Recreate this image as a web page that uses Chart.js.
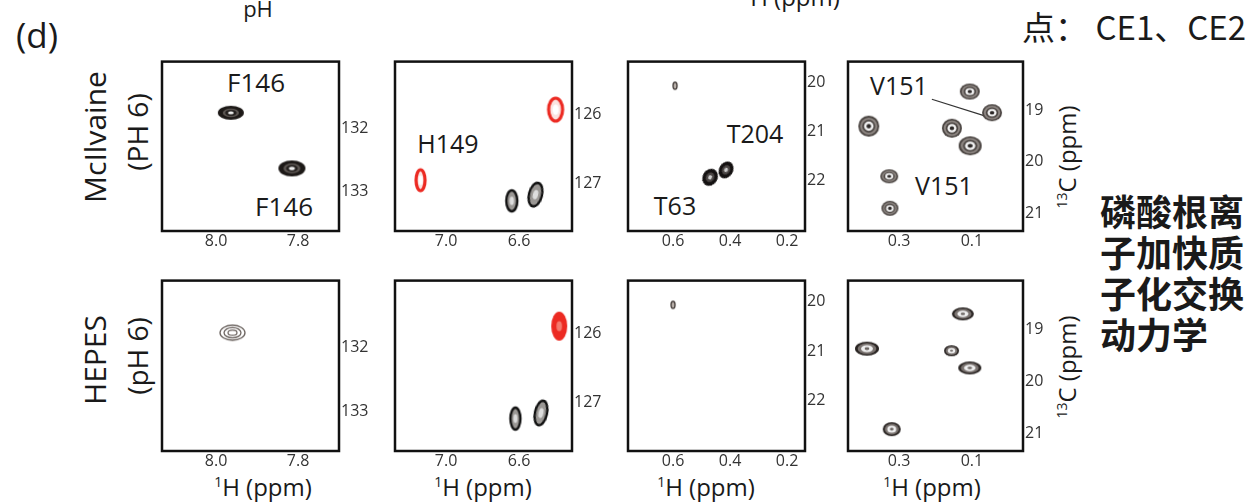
<!DOCTYPE html>
<html>
<head>
<meta charset="utf-8">
<script src="https://cdn.jsdelivr.net/npm/chart.js@4.4.1/dist/chart.umd.min.js"></script>
<style>
  body { margin: 0; width: 1255px; height: 502px; overflow: hidden; background: #fff; position: relative;
         font-family: "Open Sans", "Noto Sans", sans-serif; color: #1a1a1a; }
  canvas { position: absolute; }
  .t { position: absolute; line-height: 1; white-space: nowrap; transform: translate(-50%, -50%); }
  .r { transform: translate(-50%, -50%) rotate(-90deg); }
  .cjk { position: absolute; font-family: "Noto Sans CJK SC", sans-serif; white-space: nowrap; }
</style>
</head>
<body>

<div class="t" style="left:37px;top:34px;font-size:35px">(d)</div>
<div class="t" style="left:258px;top:8px;font-size:22px">pH</div>
<div class="t" style="left:791px;top:-3px;font-size:24px"><sup style="font-size:14px">1</sup>H (ppm)</div>
<div class="cjk" style="left:1022px;top:2px;font-size:33px">点： CE1、CE2</div>
<div class="cjk" style="left:1100px;top:190px;font-size:36px;font-weight:bold;line-height:41px">磷酸根离<br>子加快质<br>子化交换<br>动力学</div>

<div class="t r" style="left:95px;top:137px;font-size:30px">McIlvaine</div>
<div class="t r" style="left:137px;top:132px;font-size:28px">(PH 6)</div>
<div class="t r" style="left:95px;top:360px;font-size:30px">HEPES</div>
<div class="t r" style="left:137px;top:356px;font-size:28px">(pH 6)</div>

<div class="t" style="left:256px;top:82px;font-size:26px">F146</div>
<div class="t" style="left:284px;top:206px;font-size:26px">F146</div>
<div class="t" style="left:448px;top:143px;font-size:25px">H149</div>
<div class="t" style="left:755px;top:133px;font-size:25px">T204</div>
<div class="t" style="left:675px;top:205px;font-size:25px">T63</div>
<div class="t" style="left:899px;top:85px;font-size:25px">V151</div>
<div class="t" style="left:944px;top:185px;font-size:25px">V151</div>

<div class="t" style="left:263px;top:487px;font-size:24px"><sup style="font-size:14px">1</sup>H (ppm)</div>
<div class="t" style="left:483px;top:487px;font-size:24px"><sup style="font-size:14px">1</sup>H (ppm)</div>
<div class="t" style="left:706px;top:487px;font-size:24px"><sup style="font-size:14px">1</sup>H (ppm)</div>
<div class="t" style="left:932px;top:487px;font-size:24px"><sup style="font-size:14px">1</sup>H (ppm)</div>
<div class="t r" style="left:1067px;top:157px;font-size:24px"><sup style="font-size:14px">13</sup>C (ppm)</div>
<div class="t r" style="left:1067px;top:367px;font-size:24px"><sup style="font-size:14px">13</sup>C (ppm)</div>

<script>
// tick labels (ppm)
const ticksA_H = [8.0, 7.8], ticksA_C = [132, 133];
const ticksB_H = [7.0, 6.6], ticksB_C = [126, 127];
const ticksC_H = [0.6, 0.4, 0.2], ticksC_C = [20, 21, 22];
const ticksD_H = [0.3, 0.1], ticksD_C = [19, 20, 21];

// F146 aromatic peaks
const mcA_H = [7.964, 7.815], mcA_C = [131.76, 132.64];
const hepA_H = [7.96], hepA_C = [131.77];
// H149 peaks (red = histidine)
const mcB_H = [6.40, 7.14, 6.64, 6.51], mcB_C = [125.93, 126.96, 127.26, 127.17];
const hepB_H = [6.38, 6.62, 6.48], hepB_C = [125.89, 127.23, 127.15];
// Thr methyl peaks
const mcC_H = [0.593, 0.47, 0.414], mcC_C = [20.07, 21.93, 21.78];
const hepC_H = [0.60], hepC_C = [20.07];
// Val methyl peaks
const mcD_H = [0.106, 0.045, 0.383, 0.155, 0.105, 0.327, 0.325];
const mcD_C = [18.64, 19.05, 19.31, 19.35, 19.69, 20.28, 20.90];
const hepD_H = [0.125, 0.388, 0.156, 0.106, 0.32];
const hepD_C = [18.70, 19.37, 19.41, 19.74, 20.92];
// V151 leader line
const leaderD_H = [0.21, 0.065], leaderD_C = [18.79, 19.11];

// contour looks: [scale, fill, stroke, lineWidth]
const looks = {
    dark:  [[1, '#1d1917'], [0.62, '#5f5955'], [0.44, '#231f1d'], [0.22, '#eeeeee']],
    rings: [[1, null, '#6a625e', 1.3], [0.68, null, '#6a625e', 1.3], [0.36, null, '#6a625e', 1.2]],
    blk:   [[1, '#9a9794', '#111', 2.4], [0.4, '#dddddd']],
    red:   [[1, '#fbe3e0', '#ec2a22', 3.2], [0.45, '#ffffff']],
    redF:  [[1, '#ec2a22'], [0.35, '#f47a6e']],
    dot:   [[1, '#b9b0aa', '#4b4441', 1.4]],
    thr:   [[1, '#141111'], [0.55, '#4a4544'], [0.25, '#cfcfcf']],
    val:   [[1, '#4a4441'], [0.82, '#8e8783'], [0.62, '#4a4441'], [0.45, '#f4f4f4'], [0.22, '#2b2726']],
    valD:  [[1, '#2a2523'], [0.78, '#7a7370'], [0.5, '#f0f0f0'], [0.2, '#6a6461']]
};

function peakImage(look, w, h) {
    const c = document.createElement('canvas');
    c.width = Math.ceil(w) + 6;
    c.height = Math.ceil(h) + 6;
    const g = c.getContext('2d');
    looks[look].forEach(([s, fill, stroke, lw]) => {
        g.beginPath();
        g.ellipse(c.width / 2, c.height / 2, w / 2 * s, h / 2 * s, 0, 0, Math.PI * 2);
        if (fill) { g.fillStyle = fill; g.fill(); }
        if (stroke) { g.strokeStyle = stroke; g.lineWidth = lw; g.stroke(); }
    });
    return c;
}

// panel boxes on the page
const PAD = 6, YW = 44, XH = 26;
const rows = [{ t: 56, b: 231 }, { t: 275, b: 451 }];
const cols = [{ l: 162, r: 339 }, { l: 395, r: 572 }, { l: 628, r: 805 }, { l: 848, r: 1023 }];

const frame = {
    id: 'frame',
    afterDatasetsDraw(chart) {
        const a = chart.chartArea, g = chart.ctx;
        g.save();
        g.lineWidth = 2.5;
        g.strokeStyle = '#111';
        g.strokeRect(a.left, a.top, a.right - a.left, a.bottom - a.top);
        g.restore();
    }
};

function panel(ci, ri, xr, yr, xt, yt, xDigits, hs, cs, shapes, extra) {
    const c = cols[ci], r = rows[ri];
    const cv = document.createElement('canvas');
    cv.width = c.r - c.l + PAD + YW;
    cv.height = r.b - r.t + PAD + XH;
    cv.style.left = (c.l - PAD) + 'px';
    cv.style.top = (r.t - PAD) + 'px';
    document.body.appendChild(cv);

    const datasets = [{
        data: hs.map((h, i) => ({ x: h, y: cs[i] })),
        pointStyle: shapes.map(s => peakImage(s[0], s[1], s[2])),
        rotation: shapes.map(s => s[3] || 0),
        pointRadius: 3,
        clip: false
    }];
    if (extra) datasets.push(extra);

    new Chart(cv, {
        type: 'scatter',
        data: { datasets: datasets },
        options: {
            responsive: false,
            animation: false,
            events: [],
            layout: { padding: { left: PAD, top: PAD, right: 0, bottom: 0 } },
            plugins: { legend: { display: false }, tooltip: { enabled: false } },
            scales: {
                x: {
                    type: 'linear', reverse: true, min: xr[1], max: xr[0],
                    grid: { display: false, drawTicks: false }, border: { display: false },
                    ticks: { autoSkip: false, padding: 1, color: '#333', font: { size: 16 },
                             callback: v => v.toFixed(xDigits) },
                    afterBuildTicks: s => { s.ticks = xt.map(v => ({ value: v })); },
                    afterFit: s => { s.height = XH; }
                },
                y: {
                    type: 'linear', reverse: true, position: 'right', min: yr[0], max: yr[1],
                    grid: { display: false, drawTicks: false }, border: { display: false },
                    ticks: { autoSkip: false, padding: 2, color: '#333', font: { size: 16 },
                             callback: v => String(v) },
                    afterBuildTicks: s => { s.ticks = yt.map(v => ({ value: v })); },
                    afterFit: s => { s.width = YW; }
                }
            }
        },
        plugins: [frame]
    });
}

Chart.defaults.font.family = '"Open Sans", "Noto Sans", sans-serif';

const rangeA = { x: [8.132, 7.70], y: [130.95, 133.63] };
const rangeB = { x: [7.28, 6.31], y: [125.23, 127.70] };
const rangeC = { x: [0.758, 0.137], y: [19.58, 23.02] };
const rangeD = { x: [0.44, -0.04], y: [18.06, 21.34] };

const leader = {
    type: 'line',
    data: leaderD_H.map((h, i) => ({ x: h, y: leaderD_C[i] })),
    borderColor: '#333',
    borderWidth: 1.2,
    pointRadius: 0,
    showLine: true
};

// McIlvaine row
panel(0, 0, rangeA.x, rangeA.y, ticksA_H, ticksA_C, 1, mcA_H, mcA_C,
      [['dark', 26, 14], ['dark', 27, 16]]);
panel(1, 0, rangeB.x, rangeB.y, ticksB_H, ticksB_C, 1, mcB_H, mcB_C,
      [['red', 14, 23], ['red', 9, 21], ['blk', 11, 21], ['blk', 13, 24, 14]]);
panel(2, 0, rangeC.x, rangeC.y, ticksC_H, ticksC_C, 1, mcC_H, mcC_C,
      [['dot', 4, 7], ['thr', 15, 18, 30], ['thr', 14, 18, 30]]);
panel(3, 0, rangeD.x, rangeD.y, ticksD_H, ticksD_C, 1, mcD_H, mcD_C,
      [['val', 20, 16], ['val', 20, 17], ['val', 21, 21], ['val', 20, 19], ['val', 23, 19],
       ['val', 18, 14], ['val', 17, 15]], leader);

// HEPES row
panel(0, 1, rangeA.x, rangeA.y, ticksA_H, ticksA_C, 1, hepA_H, hepA_C,
      [['rings', 25, 15]]);
panel(1, 1, rangeB.x, rangeB.y, ticksB_H, ticksB_C, 1, hepB_H, hepB_C,
      [['redF', 16, 29], ['blk', 10, 22], ['blk', 12, 25, 12]]);
panel(2, 1, rangeC.x, rangeC.y, ticksC_H, ticksC_C, 1, hepC_H, hepC_C,
      [['dot', 4, 7]]);
panel(3, 1, rangeD.x, rangeD.y, ticksD_H, ticksD_C, 1, hepD_H, hepD_C,
      [['valD', 22, 13], ['valD', 24, 14], ['valD', 15, 11], ['valD', 23, 13], ['valD', 18, 14]]);
</script>
</body>
</html>
